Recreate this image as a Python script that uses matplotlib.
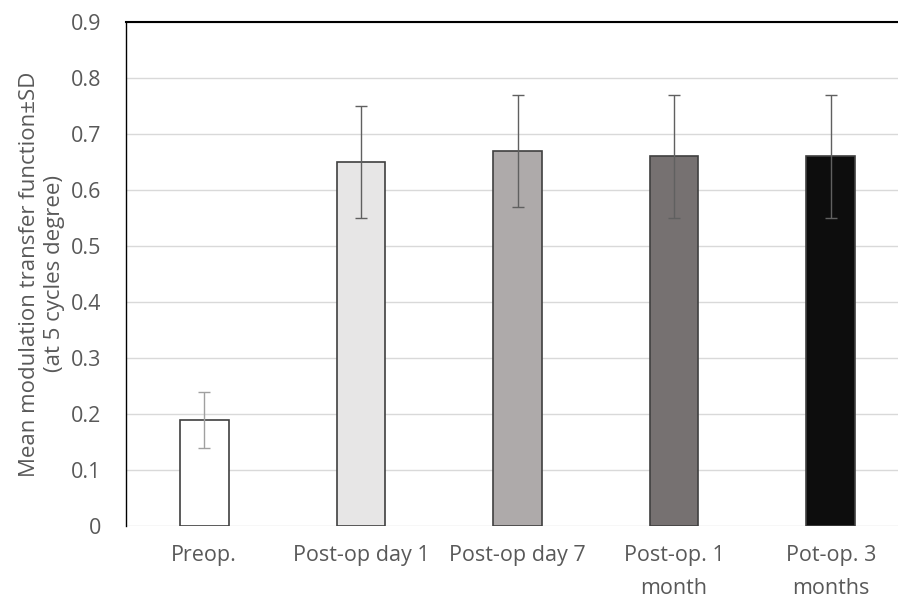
import matplotlib
matplotlib.use("Agg")
import matplotlib.pyplot as plt

categories = ["Preop.", "Post-op day 1", "Post-op day 7", "Post-op. 1\nmonth", "Pot-op. 3\nmonths"]
values = [0.19, 0.65, 0.67, 0.66, 0.66]
errors = [0.05, 0.10, 0.10, 0.11, 0.11]
colors = ["#ffffff", "#e7e6e6", "#aeaaaa", "#767171", "#0d0d0d"]
ecolors = ["#a0a0a0", "#606060", "#606060", "#606060", "#606060"]
yticks = [0, 0.1, 0.2, 0.3, 0.4, 0.5, 0.6, 0.7, 0.8, 0.9]
ytick_labels = ["0", "0.1", "0.2", "0.3", "0.4", "0.5", "0.6", "0.7", "0.8", "0.9"]

plt.rcParams['font.family'] = ['Open Sans', 'DejaVu Sans']
txt = "#595959"

fig = plt.figure(figsize=(8.98, 5.99), dpi=100)
ax = fig.add_axes([126/898, 1 - 526/599, (909-126)/898, (526-22)/599])

x = list(range(len(categories)))
ax.bar(x, values, width=0.31, color=colors, edgecolor="#404040", linewidth=1.2, zorder=3)
for xi, v, e, c in zip(x, values, errors, ecolors):
    ax.errorbar([xi], [v], yerr=[e], fmt="none", ecolor=c, elinewidth=1.0,
                capsize=4, capthick=1.0, zorder=4)

ax.set_xlim(-0.5, 4.5)
ax.set_ylim(0, 0.9)
ax.set_yticks(yticks)
ax.set_yticklabels(ytick_labels)
ax.set_xticks(x)
ax.set_xticklabels(categories, linespacing=1.75)
ax.yaxis.grid(True, color="#d9d9d9", linewidth=1.0, zorder=0)
ax.set_axisbelow(True)
for s in ["right", "bottom"]:
    ax.spines[s].set_visible(False)
ax.spines["left"].set_color("#000000")
ax.spines["top"].set_color("#000000")
ax.spines["left"].set_linewidth(1.0)
ax.spines["top"].set_linewidth(1.5)
ax.tick_params(axis="both", length=0, labelsize=15.5, colors=txt)
ax.tick_params(axis="y", pad=18)
ax.tick_params(axis="x", pad=14)
ax.set_ylabel("Mean modulation transfer function±SD\n(at 5 cycles degree)", fontsize=16,
              color=txt, labelpad=4, linespacing=1.25)

fig.savefig("out.png", dpi=100)
